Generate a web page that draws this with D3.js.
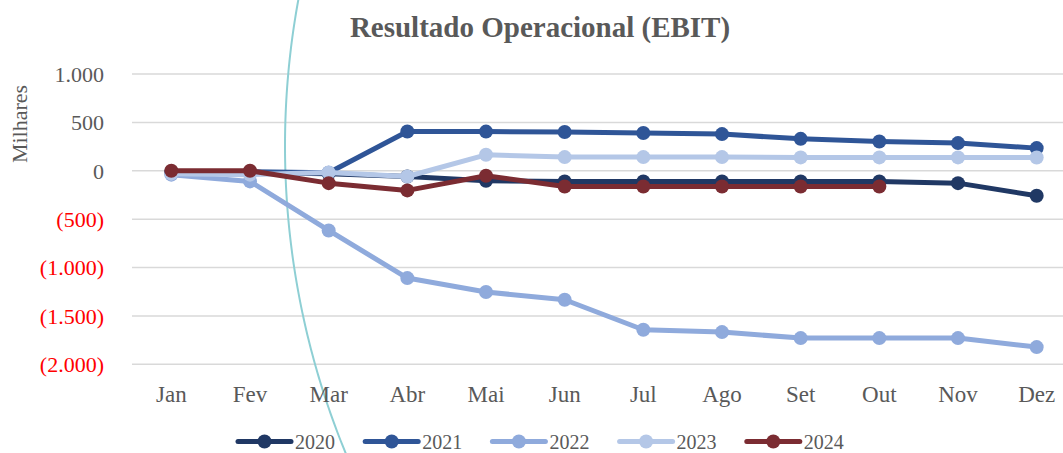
<!DOCTYPE html>
<html>
<head>
<meta charset="utf-8">
<script src="https://cdn.jsdelivr.net/npm/d3@7"></script>
<style>
  html, body { margin: 0; padding: 0; background: #ffffff; }
  svg { display: block; }
</style>
</head>
<body>
<svg id="chart" width="1063" height="453"></svg>
<script>
// Monthly operating result (EBIT), in thousands
const months = ["Jan", "Fev", "Mar", "Abr", "Mai", "Jun", "Jul", "Ago", "Set", "Out", "Nov", "Dez"];
const years = ["2020", "2021", "2022", "2023", "2024"];
const ebit2020 = [-10, -20, -30, -60, -103, -110, -110, -110, -110, -110, -128, -258];
const ebit2021 = [-20, -10, -20, 406, 405, 400, 390, 379, 330, 303, 286, 234];
const ebit2022 = [-40, -110, -617, -1109, -1253, -1333, -1643, -1667, -1729, -1729, -1729, -1822];
const ebit2023 = [-30, -40, -17, -59, 165, 141, 141, 141, 138, 138, 138, 137];
const ebit2024 = [0, 0, -128, -203, -52, -162, -162, -162, -162, -162];
const yTicks = [1000, 500, 0, -500, -1000, -1500, -2000];
const colors = ["#203864", "#2F5597", "#8FAADC", "#B4C7E7", "#7B2C32"];

const seriesValues = [ebit2020, ebit2021, ebit2022, ebit2023, ebit2024];
const series = years.map((y, i) => ({
  name: y,
  color: colors[i],
  points: seriesValues[i].map((v, j) => ({ month: months[j], value: v }))
}));

const svg = d3.select("#chart");
const W = 1063, H = 453;
const plot = { left: 132, right: 1076, top: 74, bottom: 364.3 };
const serif = "'Liberation Serif', 'DejaVu Serif', serif";
const textGray = "#595959";

const x = d3.scaleBand().domain(months).range([plot.left, plot.right]);
const xc = m => x(m) + x.bandwidth() / 2;
const y = d3.scaleLinear().domain([-2000, 1000]).range([plot.bottom, plot.top]);

// Gridlines
svg.append("g")
  .selectAll("line")
  .data(yTicks)
  .join("line")
  .attr("x1", plot.left).attr("x2", plot.right)
  .attr("y1", d => y(d)).attr("y2", d => y(d))
  .attr("stroke", "#D9D9D9").attr("stroke-width", 1.5);

// Decorative teal arc from the slide background (part of a large circle)
const arcCx = 1093, arcCy = 146, arcR = 808;
const a0 = Math.atan2(-10 - arcCy, 300 - arcCx);
let a1 = Math.atan2(H + 10 - arcCy, 350 - arcCx);
let da = a1 - a0;
if (da > 0) da -= 2 * Math.PI;
const arcPts = d3.range(0, 1.0001, 0.01).map(t => {
  const a = a0 + da * t;
  return [arcCx + arcR * Math.cos(a), arcCy + arcR * Math.sin(a)];
});
svg.append("path")
  .attr("d", d3.line()(arcPts))
  .attr("fill", "none")
  .attr("stroke", "#8ECFD4")
  .attr("stroke-width", 2);

// Y axis labels: thousands with ".", negatives in parentheses and red
const fmt = d3.formatLocale({ decimal: ",", thousands: ".", grouping: [3], currency: ["", ""] }).format(",d");
const yLabel = v => v < 0 ? "(" + fmt(-v) + ")" : fmt(v);

const yAxis = d3.axisLeft(y).tickValues(yTicks).tickFormat(yLabel).tickSize(0).tickPadding(0);
const gy = svg.append("g").attr("transform", `translate(104,0)`).call(yAxis);
gy.select(".domain").remove();
gy.selectAll("text")
  .attr("font-family", serif)
  .attr("font-size", 22)
  .attr("dy", "0.33em")
  .attr("fill", d => d < 0 ? "#FF0000" : textGray);

// X axis labels
const xAxis = d3.axisBottom(x).tickSize(0).tickPadding(0);
const gx = svg.append("g").attr("transform", `translate(0,0)`).call(xAxis);
gx.select(".domain").remove();
gx.selectAll("text")
  .attr("y", 401.5)
  .attr("dy", 0)
  .attr("font-family", serif)
  .attr("font-size", 23)
  .attr("fill", textGray);

// Axis title
svg.append("text")
  .attr("transform", "translate(27,124) rotate(-90)")
  .attr("text-anchor", "middle")
  .attr("font-family", serif)
  .attr("font-size", 22)
  .attr("fill", textGray)
  .text("Milhares");

// Chart title
svg.append("text")
  .attr("x", 540).attr("y", 36.5)
  .attr("text-anchor", "middle")
  .attr("font-family", serif)
  .attr("font-size", 29)
  .attr("font-weight", "bold")
  .attr("fill", textGray)
  .text("Resultado Operacional (EBIT)");

// Series lines and markers
const line = d3.line().x(d => xc(d.month)).y(d => y(d.value));
const gs = svg.append("g").selectAll("g").data(series).join("g");
gs.append("path")
  .attr("d", d => line(d.points))
  .attr("fill", "none")
  .attr("stroke", d => d.color)
  .attr("stroke-width", 5)
  .attr("stroke-linejoin", "round");
gs.selectAll("circle")
  .data(d => d.points.map(p => ({ ...p, color: d.color })))
  .join("circle")
  .attr("cx", d => xc(d.month))
  .attr("cy", d => y(d.value))
  .attr("r", 7)
  .attr("fill", d => d.color);

// Legend
const legend = svg.append("g").attr("transform", "translate(238,441.5)");
const li = legend.selectAll("g").data(series).join("g")
  .attr("transform", (d, i) => `translate(${i * 127.2},0)`);
li.append("line")
  .attr("x1", 0).attr("x2", 53).attr("y1", 0).attr("y2", 0)
  .attr("stroke", d => d.color).attr("stroke-width", 5).attr("stroke-linecap", "round");
li.append("circle").attr("cx", 26.5).attr("cy", 0).attr("r", 7).attr("fill", d => d.color);
li.append("text")
  .attr("x", 57).attr("y", 0).attr("dy", "0.35em")
  .attr("font-family", serif).attr("font-size", 20).attr("fill", textGray)
  .text(d => d.name);
</script>
</body>
</html>
